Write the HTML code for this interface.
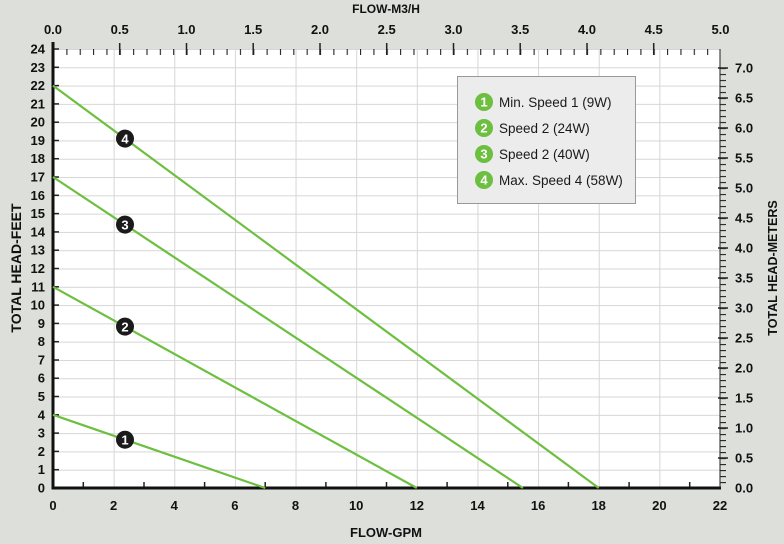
<!DOCTYPE html>
<html><head><meta charset="utf-8"><style>
html,body{margin:0;padding:0;background:#dcdfda;}
svg{display:block;font-family:"Liberation Sans",sans-serif;}
</style></head><body>
<svg width="784" height="544" viewBox="0 0 784 544" xmlns="http://www.w3.org/2000/svg">
<defs>
<pattern id="hg" x="53" y="49" width="60.636" height="18.2917" patternUnits="userSpaceOnUse">
<line x1="0" y1="0.5" x2="60.636" y2="0.5" stroke="#d6d6d6" stroke-width="1"/>
<line x1="0.5" y1="0" x2="0.5" y2="18.2917" stroke="#d6d6d6" stroke-width="1"/>
</pattern>
<pattern id="tt" x="53" y="0" width="13.349" height="10" patternUnits="userSpaceOnUse">
<line x1="0.5" y1="0" x2="0.5" y2="10" stroke="#222" stroke-width="1.2"/>
</pattern>
<pattern id="rt" x="0" y="488" width="10" height="6.001" patternUnits="userSpaceOnUse">
<line x1="0" y1="0.5" x2="10" y2="0.5" stroke="#222" stroke-width="1.2"/>
</pattern>
</defs>
<rect x="53" y="49" width="667" height="439" fill="#fff"/>
<rect x="53" y="49" width="667" height="439" fill="url(#hg)"/>
<rect x="53" y="49" width="667" height="6" fill="url(#tt)"/>
<rect x="720" y="68" width="6" height="420" fill="url(#rt)"/>
<g stroke="#222" stroke-width="1.5">
<line x1="119.7" y1="43" x2="119.7" y2="55"/><line x1="186.5" y1="43" x2="186.5" y2="55"/><line x1="253.2" y1="43" x2="253.2" y2="55"/><line x1="320" y1="43" x2="320" y2="55"/><line x1="386.7" y1="43" x2="386.7" y2="55"/><line x1="453.5" y1="43" x2="453.5" y2="55"/><line x1="520.2" y1="43" x2="520.2" y2="55"/><line x1="587" y1="43" x2="587" y2="55"/><line x1="653.7" y1="43" x2="653.7" y2="55"/>
<line x1="718" y1="458" x2="728" y2="458"/><line x1="718" y1="428" x2="728" y2="428"/><line x1="718" y1="398" x2="728" y2="398"/><line x1="718" y1="368" x2="728" y2="368"/><line x1="718" y1="338" x2="728" y2="338"/><line x1="718" y1="308" x2="728" y2="308"/><line x1="718" y1="278" x2="728" y2="278"/><line x1="718" y1="248" x2="728" y2="248"/><line x1="718" y1="218" x2="728" y2="218"/><line x1="718" y1="188" x2="728" y2="188"/><line x1="718" y1="158" x2="728" y2="158"/><line x1="718" y1="128" x2="728" y2="128"/><line x1="718" y1="98" x2="728" y2="98"/><line x1="718" y1="68" x2="728" y2="68"/>
<line x1="83.3" y1="482" x2="83.3" y2="488"/><line x1="144" y1="482" x2="144" y2="488"/><line x1="204.6" y1="482" x2="204.6" y2="488"/><line x1="265.2" y1="482" x2="265.2" y2="488"/><line x1="325.9" y1="482" x2="325.9" y2="488"/><line x1="386.5" y1="482" x2="386.5" y2="488"/><line x1="447.1" y1="482" x2="447.1" y2="488"/><line x1="507.8" y1="482" x2="507.8" y2="488"/><line x1="568.4" y1="482" x2="568.4" y2="488"/><line x1="629.1" y1="482" x2="629.1" y2="488"/><line x1="689.7" y1="482" x2="689.7" y2="488"/>
</g>
<g stroke="#222" stroke-width="1.5">
<line x1="53" y1="469.7" x2="59" y2="469.7"/><line x1="53" y1="451.4" x2="59" y2="451.4"/><line x1="53" y1="433.1" x2="59" y2="433.1"/><line x1="53" y1="414.8" x2="59" y2="414.8"/><line x1="53" y1="396.5" x2="59" y2="396.5"/><line x1="53" y1="378.2" x2="59" y2="378.2"/><line x1="53" y1="360" x2="59" y2="360"/><line x1="53" y1="341.7" x2="59" y2="341.7"/><line x1="53" y1="323.4" x2="59" y2="323.4"/><line x1="53" y1="305.1" x2="59" y2="305.1"/><line x1="53" y1="286.8" x2="59" y2="286.8"/><line x1="53" y1="268.5" x2="59" y2="268.5"/><line x1="53" y1="250.2" x2="59" y2="250.2"/><line x1="53" y1="231.9" x2="59" y2="231.9"/><line x1="53" y1="213.6" x2="59" y2="213.6"/><line x1="53" y1="195.3" x2="59" y2="195.3"/><line x1="53" y1="177" x2="59" y2="177"/><line x1="53" y1="158.7" x2="59" y2="158.7"/><line x1="53" y1="140.5" x2="59" y2="140.5"/><line x1="53" y1="122.2" x2="59" y2="122.2"/><line x1="53" y1="103.9" x2="59" y2="103.9"/><line x1="53" y1="85.6" x2="59" y2="85.6"/><line x1="53" y1="67.3" x2="59" y2="67.3"/><line x1="53" y1="49" x2="59" y2="49"/>
</g>
<line x1="53" y1="42" x2="53" y2="489.5" stroke="#111" stroke-width="3"/>
<line x1="51.5" y1="488" x2="721" y2="488" stroke="#111" stroke-width="3"/>
<line x1="720" y1="49" x2="720" y2="488" stroke="#222" stroke-width="1"/>
<g stroke="#6cbf3f" stroke-width="2.2" fill="none">
<line x1="53" y1="414.8" x2="265.2" y2="488"/>
<line x1="53" y1="286.8" x2="416.8" y2="488"/>
<line x1="53" y1="177" x2="522.9" y2="488"/>
<line x1="53" y1="85.6" x2="598.7" y2="488"/>
</g>
<g font-weight="bold" font-size="13" text-anchor="middle">
<circle cx="125" cy="138.6" r="9" fill="#1a1a1a"/><text x="125" y="143.3" fill="#fff">4</text>
<circle cx="125" cy="224.6" r="9" fill="#1a1a1a"/><text x="125" y="229.3" fill="#fff">3</text>
<circle cx="125" cy="326.6" r="9" fill="#1a1a1a"/><text x="125" y="331.3" fill="#fff">2</text>
<circle cx="125" cy="439.7" r="9" fill="#1a1a1a"/><text x="125" y="444.4" fill="#fff">1</text>
</g>
<rect x="457.5" y="76.5" width="178" height="127" fill="#ececec" stroke="#999" stroke-width="1"/>
<g font-size="13.5" fill="#1a1a1a">
<circle cx="484" cy="102" r="9" fill="#6cbf3f"/><text x="484" y="106.7" fill="#fff" font-weight="bold" text-anchor="middle" font-size="13">1</text><text x="499" y="107">Min. Speed 1 (9W)</text>
<circle cx="484" cy="128" r="9" fill="#6cbf3f"/><text x="484" y="132.7" fill="#fff" font-weight="bold" text-anchor="middle" font-size="13">2</text><text x="499" y="133">Speed 2 (24W)</text>
<circle cx="484" cy="154" r="9" fill="#6cbf3f"/><text x="484" y="158.7" fill="#fff" font-weight="bold" text-anchor="middle" font-size="13">3</text><text x="499" y="159">Speed 2 (40W)</text>
<circle cx="484" cy="180" r="9" fill="#6cbf3f"/><text x="484" y="184.7" fill="#fff" font-weight="bold" text-anchor="middle" font-size="13">4</text><text x="499" y="185">Max. Speed 4 (58W)</text>
</g>
<g font-weight="bold" font-size="13" fill="#111">
<g text-anchor="middle">
<text x="53" y="34">0.0</text><text x="119.7" y="34">0.5</text><text x="186.5" y="34">1.0</text><text x="253.2" y="34">1.5</text><text x="320" y="34">2.0</text><text x="386.7" y="34">2.5</text><text x="453.5" y="34">3.0</text><text x="520.2" y="34">3.5</text><text x="587" y="34">4.0</text><text x="653.7" y="34">4.5</text><text x="720.5" y="34">5.0</text>
<text x="53" y="510">0</text><text x="113.6" y="510">2</text><text x="174.3" y="510">4</text><text x="234.9" y="510">6</text><text x="295.5" y="510">8</text><text x="356.2" y="510">10</text><text x="416.8" y="510">12</text><text x="477.5" y="510">14</text><text x="538.1" y="510">16</text><text x="598.7" y="510">18</text><text x="659.4" y="510">20</text><text x="720" y="510">22</text>
<text x="386" y="13" font-size="12">FLOW-M3/H</text>
<text x="386" y="537">FLOW-GPM</text>
</g>
<g text-anchor="end">
<text x="45" y="492.5">0</text><text x="45" y="474.2">1</text><text x="45" y="455.9">2</text><text x="45" y="437.6">3</text><text x="45" y="419.3">4</text><text x="45" y="401">5</text><text x="45" y="382.7">6</text><text x="45" y="364.5">7</text><text x="45" y="346.2">8</text><text x="45" y="327.9">9</text><text x="45" y="309.6">10</text><text x="45" y="291.3">11</text><text x="45" y="273">12</text><text x="45" y="254.7">13</text><text x="45" y="236.4">14</text><text x="45" y="218.1">15</text><text x="45" y="199.8">16</text><text x="45" y="181.5">17</text><text x="45" y="163.2">18</text><text x="45" y="145">19</text><text x="45" y="126.7">20</text><text x="45" y="108.4">21</text><text x="45" y="90.1">22</text><text x="45" y="71.8">23</text><text x="45" y="53.5">24</text>
</g>
<g>
<text x="735" y="492.5">0.0</text><text x="735" y="462.5">0.5</text><text x="735" y="432.5">1.0</text><text x="735" y="402.5">1.5</text><text x="735" y="372.5">2.0</text><text x="735" y="342.5">2.5</text><text x="735" y="312.5">3.0</text><text x="735" y="282.5">3.5</text><text x="735" y="252.5">4.0</text><text x="735" y="222.5">4.5</text><text x="735" y="192.5">5.0</text><text x="735" y="162.5">5.5</text><text x="735" y="132.5">6.0</text><text x="735" y="102.5">6.5</text><text x="735" y="72.5">7.0</text>
</g>
<text transform="translate(21,268) rotate(-90)" text-anchor="middle" font-size="14">TOTAL HEAD-FEET</text>
<text transform="translate(777,268) rotate(-90)" text-anchor="middle" font-size="12.5">TOTAL HEAD-METERS</text>
</g>
</svg>
</body></html>
